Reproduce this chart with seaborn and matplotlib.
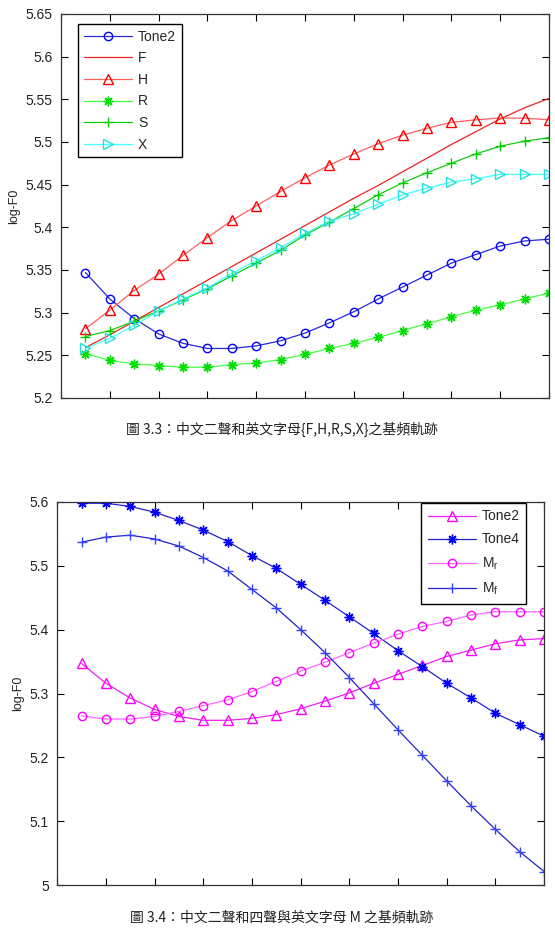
import matplotlib
matplotlib.use("Agg")
import matplotlib.pyplot as plt
import numpy as np
import seaborn as sns

# frame index 1..20
frames = list(range(1, 21))

# Fig 3.3 : tone 2 and the letters F, H, R, S, X
tone2 = [5.347, 5.316, 5.293, 5.275, 5.264, 5.258, 5.258, 5.261, 5.267, 5.276,
         5.288, 5.301, 5.316, 5.330, 5.344, 5.358, 5.368, 5.378, 5.384, 5.386]
f_vals = [5.259, 5.274, 5.290, 5.306, 5.322, 5.338, 5.354, 5.370, 5.386, 5.402,
          5.418, 5.434, 5.449, 5.465, 5.481, 5.497, 5.512, 5.527, 5.540, 5.551]
h_vals = [5.281, 5.303, 5.326, 5.345, 5.367, 5.388, 5.408, 5.425, 5.442, 5.458,
          5.473, 5.486, 5.498, 5.508, 5.516, 5.523, 5.526, 5.528, 5.528, 5.526]
r_vals = [5.252, 5.244, 5.240, 5.238, 5.236, 5.236, 5.239, 5.241, 5.245, 5.251,
          5.258, 5.264, 5.271, 5.279, 5.287, 5.295, 5.303, 5.309, 5.316, 5.323]
s_vals = [5.272, 5.279, 5.290, 5.302, 5.315, 5.328, 5.343, 5.358, 5.373, 5.391,
          5.406, 5.422, 5.438, 5.452, 5.464, 5.475, 5.486, 5.495, 5.501, 5.505]
x_vals = [5.258, 5.270, 5.285, 5.302, 5.316, 5.329, 5.346, 5.361, 5.376, 5.393,
          5.407, 5.416, 5.427, 5.438, 5.446, 5.453, 5.457, 5.462, 5.462, 5.462]

# Fig 3.4 : tone 2, tone 4 and the letter M
tone4 = [5.598, 5.598, 5.593, 5.584, 5.571, 5.556, 5.538, 5.516, 5.496, 5.471,
         5.446, 5.420, 5.394, 5.367, 5.342, 5.316, 5.293, 5.269, 5.251, 5.233]
m_r = [5.265, 5.260, 5.260, 5.264, 5.272, 5.281, 5.290, 5.303, 5.319, 5.335,
       5.349, 5.364, 5.379, 5.393, 5.405, 5.413, 5.423, 5.428, 5.428, 5.428]
m_f = [5.537, 5.545, 5.548, 5.542, 5.531, 5.513, 5.492, 5.463, 5.434, 5.400,
       5.364, 5.325, 5.284, 5.243, 5.203, 5.163, 5.124, 5.087, 5.052, 5.021]

sns.set_theme(style="white")
plt.rcParams["font.family"] = ["Liberation Sans", "DejaVu Sans"]
plt.rcParams["mathtext.default"] = "regular"

fig = plt.figure(figsize=(5.55, 9.32), dpi=100)
ax1 = fig.add_axes([0.110, 0.573, 0.879, 0.412])
ax2 = fig.add_axes([0.103, 0.0504, 0.8775, 0.411])

STAR = (8, 2, 0)  # MATLAB-like asterisk

top_series = [
    ("Tone2", tone2, "#2828dd", "#0000ff", "o"),
    ("F", f_vals, "#ee2222", "#ff0000", None),
    ("H", h_vals, "#ff6060", "#ff0000", "^"),
    ("R", r_vals, "#44ff44", "#00dd00", STAR),
    ("S", s_vals, "#11cc11", "#00cc00", "+"),
    ("X", x_vals, "#44ffff", "#22e0e0", ">"),
]
bottom_series = [
    ("Tone2", tone2, "#ee22ee", "#ff00ff", "^"),
    ("Tone4", tone4, "#2222cc", "#0000ff", STAR),
    ("M$_r$", m_r, "#ff66ff", "#ff00ff", "o"),
    ("M$_f$", m_f, "#2222cc", "#3344ff", "+"),
]

for ax, series in [(ax1, top_series), (ax2, bottom_series)]:
    for label, vals, lc, mc, mk in series:
        kw = dict(color=lc, linewidth=0.9, label=label)
        if mk is not None:
            size = 6 if mk == "o" else 7
            kw.update(marker=mk, markersize=size, markerfacecolor="none",
                      markeredgecolor=mc, markeredgewidth=1.0)
        sns.lineplot(x=frames, y=vals, ax=ax, **kw)

ax1.set_ylim(5.2, 5.65)
ax1.set_yticks([5.2, 5.25, 5.3, 5.35, 5.4, 5.45, 5.5, 5.55, 5.6, 5.65])
ax1.set_yticklabels(["5.2", "5.25", "5.3", "5.35", "5.4", "5.45", "5.5", "5.55", "5.6", "5.65"])
ax2.set_ylim(5.0, 5.6)
ax2.set_yticks([5.0, 5.1, 5.2, 5.3, 5.4, 5.5, 5.6])
ax2.set_yticklabels(["5", "5.1", "5.2", "5.3", "5.4", "5.5", "5.6"])

for ax in (ax1, ax2):
    ax.set_xlim(0, 20)
    ax.set_xticks(range(0, 21, 2))
    ax.set_xticklabels([])
    ax.tick_params(axis="both", direction="in", length=5, width=0.8, color="black",
                   top=True, right=True, left=True, bottom=True, labelsize=10,
                   labelcolor="#222222", pad=6)
    for sp in ax.spines.values():
        sp.set_color("#333333")
        sp.set_linewidth(0.9)
    ax.set_xlabel("")
    ax.set_ylabel("log-F0", fontsize=9, labelpad=4, color="#222222")

ax1.legend(loc="upper left", bbox_to_anchor=(0.035, 0.974), fontsize=10,
           frameon=True, fancybox=False, edgecolor="black", framealpha=1,
           numpoints=1, handlelength=3.5, labelspacing=0.55, borderpad=0.4,
           handletextpad=0.4, borderaxespad=0)
ax2.legend(loc="upper right", bbox_to_anchor=(0.963, 0.997), fontsize=10,
           frameon=True, fancybox=False, edgecolor="black", framealpha=1,
           numpoints=1, handlelength=3.5, labelspacing=0.65, borderpad=0.45,
           handletextpad=0.4, borderaxespad=0)

cap_font = ["Noto Sans CJK TC", "DejaVu Sans"]
fig.text(0.508, 0.539, "圖 3.3：中文二聲和英文字母{F,H,R,S,X}之基頻軌跡",
         ha="center", va="center", fontsize=10, family=cap_font, color="#222222")
fig.text(0.508, 0.016, "圖 3.4：中文二聲和四聲與英文字母 M 之基頻軌跡",
         ha="center", va="center", fontsize=10, family=cap_font, color="#222222")

fig.savefig("out.png", dpi=100, facecolor="white")
